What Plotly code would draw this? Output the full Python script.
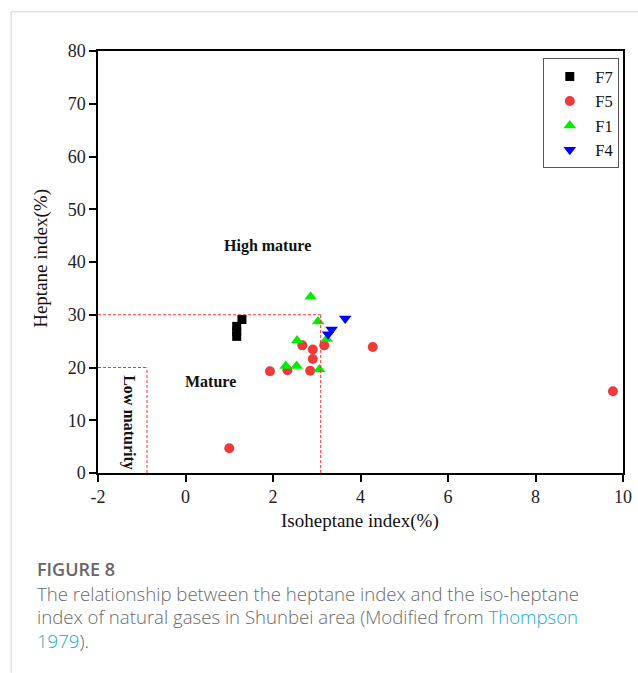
import plotly.graph_objects as go

# Sample data: isoheptane index (x, %) and heptane index (y, %)
f7_x = [1.17, 1.17, 1.17, 1.29]
f7_y = [25.9, 26.8, 27.8, 29.1]

f5_x = [1.00, 1.93, 2.33, 2.67, 2.91, 2.91, 2.85, 3.17, 4.28, 9.77]
f5_y = [4.7, 19.3, 19.5, 24.2, 23.4, 21.6, 19.4, 24.2, 23.9, 15.5]

f1_x = [2.86, 3.03, 2.55, 3.23, 2.29, 2.54, 3.06]
f1_y = [33.4, 28.7, 25.1, 25.4, 20.3, 20.3, 19.6]

f4_x = [3.65, 3.34, 3.26]
f4_y = [29.3, 27.2, 26.3]

# Maturity zone boundaries (Thompson 1979)
low_mature_iso = -0.88
low_mature_hep = 20.0
mature_iso = 3.09
mature_hep = 30.0

x_ticks = [-2, 0, 2, 4, 6, 8, 10]
y_ticks = [0, 10, 20, 30, 40, 50, 60, 70, 80]

W, H = 638, 673
L, R, T, B = 98.3, 622.7, 50.7, 473.0
PW, PH = R - L, B - T


def px(xp):
    return (xp - L) / PW


def py(yp):
    return (B - yp) / PH


SERIF = "Liberation Serif, Times New Roman, serif"
SANS = "Open Sans, sans-serif"

fig = go.Figure()
fig.add_trace(go.Scatter(x=f7_x, y=f7_y, mode="markers", name="F7",
                         marker=dict(symbol="square", size=9, color="#000000")))
fig.add_trace(go.Scatter(x=f5_x, y=f5_y, mode="markers", name="F5",
                         marker=dict(symbol="circle", size=10, color="#ee3a3a")))
fig.add_trace(go.Scatter(x=f1_x, y=f1_y, mode="markers", name="F1",
                         marker=dict(symbol="triangle-up", size=11, color="#00ee00")))
fig.add_trace(go.Scatter(x=f4_x, y=f4_y, mode="markers", name="F4",
                         marker=dict(symbol="triangle-down", size=11, color="#0000ff")))

dash_line = dict(color="#ff3333", width=1, dash="3px,2px")
shapes = [
    dict(type="line", xref="x", yref="y", x0=-2, x1=low_mature_iso,
         y0=low_mature_hep, y1=low_mature_hep, line=dash_line),
    dict(type="line", xref="x", yref="y", x0=low_mature_iso, x1=low_mature_iso,
         y0=0, y1=low_mature_hep, line=dash_line),
    dict(type="line", xref="x", yref="y", x0=-2, x1=mature_iso,
         y0=mature_hep, y1=mature_hep, line=dash_line),
    dict(type="line", xref="x", yref="y", x0=mature_iso, x1=mature_iso,
         y0=0, y1=mature_hep, line=dash_line),
    # card border (left and top edges)
    dict(type="line", xref="paper", yref="paper", x0=px(11.5), x1=px(11.5),
         y0=py(11.5), y1=py(673), line=dict(color="#d4d4d4", width=1)),
    dict(type="line", xref="paper", yref="paper", x0=px(11.5), x1=px(638),
         y0=py(11.5), y1=py(11.5), line=dict(color="#d4d4d4", width=1)),
]


def note(x, y, text, font, xanchor="center", yanchor="middle", data=False, **kw):
    return dict(x=x, y=y, xref="x" if data else "paper", yref="y" if data else "paper",
                text=text, showarrow=False, xanchor=xanchor, yanchor=yanchor,
                font=font, **kw)


label_font = dict(family=SERIF, size=16, color="#111111")
title_font = dict(family=SERIF, size=19, color="#111111")
body_font = dict(family=SANS, size=18.6, color="#6a6a6a", weight=300)

annotations = [
    note(1.87, 43.0, "<b>High mature</b>", label_font, data=True),
    note(0.56, 17.3, "<b>Mature</b>", label_font, data=True),
    note(-1.31, 9.6, "<b>Low maturity</b>", label_font, data=True, textangle=90),
    # axis titles
    note(px((L + R) / 2), py(521), "Isoheptane index(%)", title_font),
    note(px(42), py(258), "Heptane index(%)", title_font, textangle=-90),
    # caption
    note(px(35), py(569), "FIGURE 8",
         dict(family=SANS, size=18, color="#666666", weight=600), xanchor="left"),
    note(px(35), py(594),
         "The relationship between the heptane index and the iso-heptane",
         body_font, xanchor="left"),
    note(px(35), py(617),
         "index of natural gases in Shunbei area (Modified from "
         "<span style='color:#1ba9c9'>Thompson</span>",
         body_font, xanchor="left"),
    note(px(35), py(641), "<span style='color:#1ba9c9'>1979</span>).",
         body_font, xanchor="left"),
]

tick_font = dict(family=SERIF, size=18, color="#222222")
axis_common = dict(showgrid=False, zeroline=False, showline=True, mirror=True,
                   linecolor="#000000", linewidth=1.5, ticks="outside", ticklen=7,
                   tickwidth=1.5, tickcolor="#000000", tickfont=tick_font)

fig.update_layout(
    width=W, height=H,
    font=dict(family=SERIF, size=18, color="#222222"),
    margin=dict(l=L, r=W - R, t=T, b=H - B, autoexpand=False),
    paper_bgcolor="white", plot_bgcolor="white",
    xaxis=dict(range=[-2, 10], tickmode="array", tickvals=x_ticks,
               ticktext=[str(v) for v in x_ticks], **axis_common),
    yaxis=dict(range=[0, 80], tickmode="array", tickvals=y_ticks,
               ticktext=[str(v) for v in y_ticks], **axis_common),
    legend=dict(x=px(619), y=py(58), xanchor="right", yanchor="top",
                bgcolor="white", bordercolor="#555555", borderwidth=1,
                font=dict(family=SERIF, size=16.5, color="#111111"),
                itemwidth=41, tracegroupgap=0),
    shapes=shapes,
    annotations=annotations,
    showlegend=True,
)

fig.write_html("out.html")
